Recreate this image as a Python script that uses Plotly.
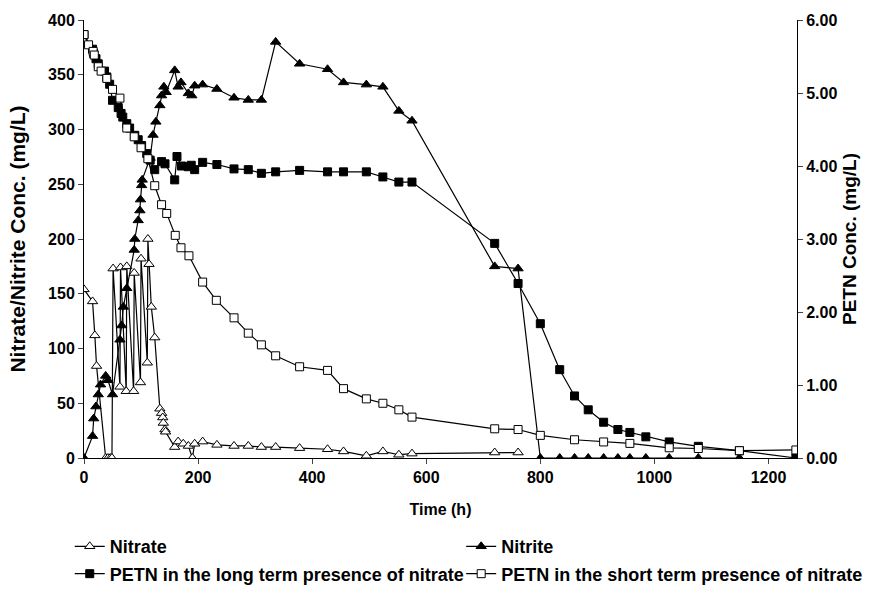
import plotly.graph_objects as go

nitrate_t = [0, 15, 19, 22, 38, 42, 46, 49, 51, 63, 64, 74, 75, 87, 88, 99, 100, 111, 112, 114, 118, 124,
             133, 136, 138, 139, 142, 143, 159, 165, 174, 183, 190, 194, 208, 233, 263, 288, 311, 336,
             378, 427, 455, 495, 524, 552, 575, 720, 761]
nitrate_v = [154, 143, 112, 84, 0, 0, 0, 0, 173, 65, 174, 61, 175, 61, 169, 69, 182, 87, 200, 177, 138, 110,
             45, 41, 37, 32, 26, 24, 10, 15, 13, 11, 0, 13, 15, 12, 11, 11, 10, 10,
             9, 8, 6, 2, 6, 3, 4, 5, 5]

nitrite_t = [0, 15, 17, 21, 25, 29, 38, 42, 50, 63, 66, 69, 75, 88, 89, 95, 98, 99, 101, 102,
             116, 121, 126, 133, 136, 140, 144, 159, 165, 170, 183, 189, 194, 208, 233, 263, 288, 311,
             336, 378, 427, 455, 495, 524, 552, 575, 720, 761, 800, 834, 860, 884, 911, 936, 957, 985,
             1026, 1077, 1149]
nitrite_v = [0, 20, 36, 47, 58, 67, 75, 71, 58, 108, 121, 138, 155, 190, 200, 217, 226, 236, 249, 254,
             274, 295, 307, 322, 331, 339, 334, 354, 339, 343, 333, 331, 340, 341, 337, 329, 327, 327,
             380, 360, 355, 343, 341, 339, 317, 308, 175, 173, 0, 0, 0, 0, 0, 0, 0, 0,
             0, 0, 0]

petn_long_t = [0, 15, 17, 21, 25, 36, 40, 45, 50, 60, 65, 68, 75, 80, 89, 95, 101, 110, 116, 124,
               136, 142, 159, 163, 171, 183, 188, 194, 208, 233, 263, 288, 311, 336, 378, 427, 455,
               495, 524, 552, 575, 720, 761, 800, 834, 860, 884, 911, 936, 957, 985, 1026, 1077, 1149, 1248]
petn_long_v = [5.80, 5.60, 5.54, 5.47, 5.40, 5.30, 5.22, 5.12, 4.90, 4.80, 4.72, 4.67, 4.58, 4.52, 4.42,
               4.36, 4.28, 4.17, 4.08, 3.95, 4.06, 4.03, 3.81, 4.13, 4.00, 3.99, 4.01, 3.95, 4.05, 4.02,
               3.96, 3.95, 3.90, 3.92, 3.94, 3.92, 3.92, 3.92, 3.85, 3.78, 3.78, 2.94, 2.39, 1.84, 1.21,
               0.85, 0.66, 0.49, 0.39, 0.35, 0.29, 0.22, 0.16, 0.10, 0.00]

petn_short_t = [0, 8, 16, 18, 25, 30, 40, 50, 63, 75, 88, 100, 112, 124, 136, 145, 160, 170, 184,
                208, 232, 263, 288, 311, 336, 378, 427, 455, 495, 524, 552, 575, 720, 761, 800,
                860, 911, 957, 1026, 1077, 1149, 1248]
petn_short_v = [5.80, 5.66, 5.57, 5.52, 5.36, 5.30, 5.20, 5.05, 4.93, 4.52, 4.40, 4.25, 4.10, 3.73,
                3.47, 3.35, 3.05, 2.88, 2.77, 2.41, 2.16, 1.92, 1.71, 1.55, 1.40, 1.25, 1.20, 0.95,
                0.81, 0.75, 0.66, 0.56, 0.40, 0.39, 0.31, 0.25, 0.22, 0.20, 0.14, 0.13, 0.10, 0.11]

x_ticks = [0, 200, 400, 600, 800, 1000, 1200]

FONT = "Liberation Sans"
tick_font = dict(family=FONT, size=16, color="black", weight="bold")
xtitle_font = dict(family=FONT, size=16, color="black", weight="bold")
ytitle_font = dict(family=FONT, size=21, color="black", weight="bold")
y2title_font = dict(family=FONT, size=19, color="black", weight="bold")
legend_font = dict(family=FONT, size=18, color="black", weight="bold")

fig = go.Figure()
line = dict(color="black", width=1.2)

fig.add_trace(go.Scatter(x=nitrate_t, y=nitrate_v, name="Nitrate", mode="lines+markers",
                         line=line, legend="legend", legendgroup="a",
                         marker=dict(symbol="triangle-up", size=9, color="white",
                                     line=dict(color="black", width=1))))
fig.add_trace(go.Scatter(x=petn_long_t, y=petn_long_v, name="PETN in the long term presence of nitrate",
                         mode="lines+markers", line=line, yaxis="y2", legend="legend", legendgroup="b",
                         marker=dict(symbol="square", size=8, color="black",
                                     line=dict(color="black", width=1))))
fig.add_trace(go.Scatter(x=nitrite_t, y=nitrite_v, name="Nitrite", mode="lines+markers",
                         line=line, legend="legend2", legendgroup="c",
                         marker=dict(symbol="triangle-up", size=9, color="black",
                                     line=dict(color="black", width=1))))
fig.add_trace(go.Scatter(x=petn_short_t, y=petn_short_v, name="PETN in the short term presence of nitrate",
                         mode="lines+markers", line=line, yaxis="y2", legend="legend2", legendgroup="d",
                         marker=dict(symbol="square", size=8, color="white",
                                     line=dict(color="black", width=1))))

leg = dict(orientation="v", yanchor="top", xanchor="left", y=-0.16,
           font=legend_font, bgcolor="rgba(0,0,0,0)", tracegroupgap=1, itemwidth=30)

fig.update_layout(
    width=878, height=598,
    margin=dict(l=84, r=81, t=20, b=140, autoexpand=False),
    paper_bgcolor="white", plot_bgcolor="white",
    font=dict(family=FONT, size=16, color="black"),
    showlegend=True,
    legend=dict(leg, x=-0.02),
    legend2=dict(leg, x=0.529),
    xaxis=dict(range=[0, 1250], tickvals=x_ticks, ticks="outside", ticklen=5, automargin=False,
               showline=True, linecolor="black", linewidth=1, showgrid=False, zeroline=False,
               tickfont=tick_font, title=dict(text="Time (h)", font=xtitle_font, standoff=18)),
    yaxis=dict(range=[0, 400], dtick=50, ticks="outside", ticklen=5, automargin=False,
               showline=True, linecolor="black", linewidth=1, showgrid=False, zeroline=False,
               tickfont=tick_font, title=dict(text="Nitrate/Nitrite Conc. (mg/L)", font=ytitle_font,
                                              standoff=16)),
    yaxis2=dict(range=[0, 6], dtick=1, tickformat=".2f", ticks="outside", ticklen=5, automargin=False,
                overlaying="y", side="right",
                showline=True, linecolor="black", linewidth=1, showgrid=False, zeroline=False,
                tickfont=tick_font, title=dict(text="PETN Conc. (mg/L)", font=y2title_font, standoff=6)),
)

fig.write_html("out.html")
